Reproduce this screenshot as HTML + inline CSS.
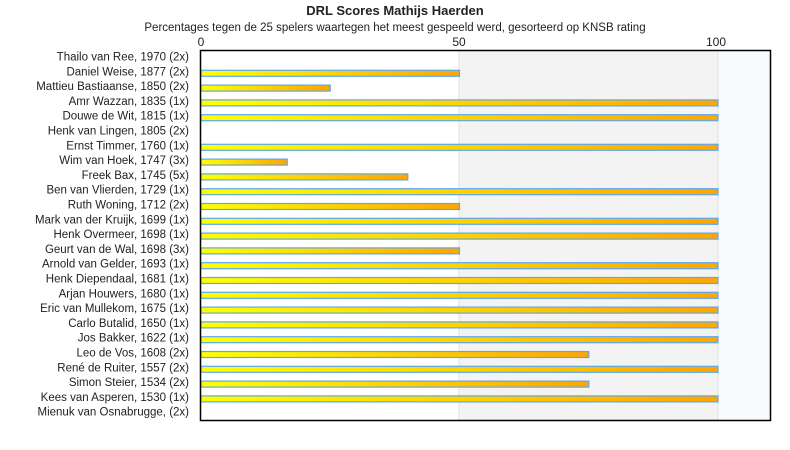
<!DOCTYPE html>
<html><head><meta charset="utf-8"><style>body{margin:0;background:#fff}svg{display:block}text{font-family:"Liberation Sans",sans-serif;fill:#222}</style></head><body>
<svg width="790" height="450" xmlns="http://www.w3.org/2000/svg">
<defs><linearGradient id="g" x1="0" x2="1" y1="0" y2="0"><stop offset="0" stop-color="#ffff00"/><stop offset="1" stop-color="#ffa500"/></linearGradient></defs>
<text x="395" y="15" text-anchor="middle" font-size="13" font-weight="bold">DRL Scores Mathijs Haerden</text>
<text x="395" y="31" text-anchor="middle" font-size="11.5">Percentages tegen de 25 spelers waartegen het meest gespeeld werd, gesorteerd op KNSB rating</text>
<rect x="459" y="50" width="259" height="370" fill="#f3f3f3"/>
<rect x="718" y="50" width="52" height="370" fill="#f8fbfe"/>
<line x1="459" y1="50" x2="459" y2="420" stroke="#e0e0e0"/>
<line x1="718" y1="50" x2="718" y2="420" stroke="#e0e0e0"/>
<text x="201" y="46" text-anchor="middle" font-size="12">0</text>
<text x="459" y="46" text-anchor="middle" font-size="12">50</text>
<text x="716" y="46" text-anchor="middle" font-size="12">100</text>
<g id="bars"></g>
<rect x="200.5" y="50.5" width="570" height="370" fill="none" stroke="#000" stroke-width="1.5"/>
<g id="labels" font-size="11.5" text-anchor="end"></g>
<script>
var d=[["Thailo van Ree, 1970 (2x)",0],["Daniel Weise, 1877 (2x)",50],["Mattieu Bastiaanse, 1850 (2x)",25],["Amr Wazzan, 1835 (1x)",100],["Douwe de Wit, 1815 (1x)",100],["Henk van Lingen, 1805 (2x)",0],["Ernst Timmer, 1760 (1x)",100],["Wim van Hoek, 1747 (3x)",16.67],["Freek Bax, 1745 (5x)",40],["Ben van Vlierden, 1729 (1x)",100],["Ruth Woning, 1712 (2x)",50],["Mark van der Kruijk, 1699 (1x)",100],["Henk Overmeer, 1698 (1x)",100],["Geurt van de Wal, 1698 (3x)",50],["Arnold van Gelder, 1693 (1x)",100],["Henk Diependaal, 1681 (1x)",100],["Arjan Houwers, 1680 (1x)",100],["Eric van Mullekom, 1675 (1x)",100],["Carlo Butalid, 1650 (1x)",100],["Jos Bakker, 1622 (1x)",100],["Leo de Vos, 1608 (2x)",75],["René de Ruiter, 1557 (2x)",100],["Simon Steier, 1534 (2x)",75],["Kees van Asperen, 1530 (1x)",100],["Mienuk van Osnabrugge,  (2x)",0]];
var ns="http://www.w3.org/2000/svg",b=document.getElementById("bars"),l=document.getElementById("labels");
d.forEach(function(r,i){var c=58.5+14.8*i;
var t=document.createElementNS(ns,"text");t.setAttribute("x",189);t.setAttribute("y",c+2);t.textContent=r[0];l.appendChild(t);
if(r[1]>0){var e=document.createElementNS(ns,"rect");e.setAttribute("x",201);e.setAttribute("y",c-3);e.setAttribute("width",r[1]*5.17);e.setAttribute("height",6);e.setAttribute("fill","url(#g)");e.setAttribute("stroke","#5aa8f0");e.setAttribute("stroke-width","1.2");b.appendChild(e);}
});
</script>
</svg>
</body></html>
